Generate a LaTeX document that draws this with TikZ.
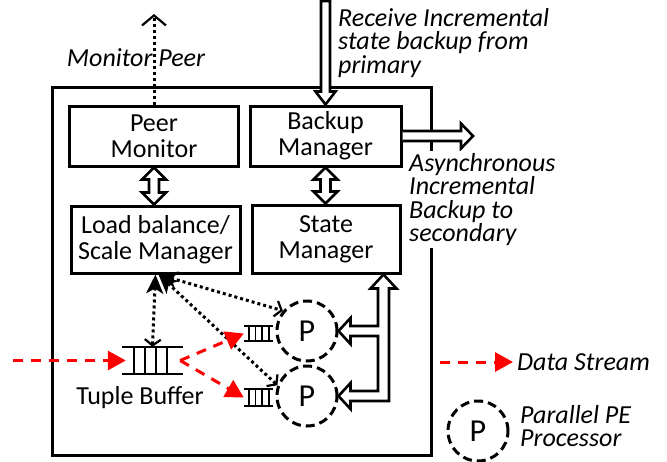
\documentclass[tikz,border=0pt]{standalone}
\usepackage{fontspec}
\setmainfont{Carlito}
\usetikzlibrary{arrows.meta,calc}

\tikzset{
  box/.style={draw, line width=3pt, inner sep=0pt, align=center},
  hollow/.style={draw, fill=white, line width=2.6pt, line join=miter},
  dotline/.style={line width=3pt, dash pattern=on 3pt off 3pt},
  redflow/.style={red, line width=3pt, dash pattern=on 10pt off 8pt, -{Triangle[length=18pt,width=19pt]}},
  pe/.style={circle, draw, line width=3pt, dash pattern=on 9pt off 5pt, minimum size=60pt, inner sep=0pt, font=\fontsize{32}{32}\selectfont},
  qline/.style={line width=1.8pt},
  lab/.style={font=\fontsize{26}{23.5}\selectfont\itshape, align=left, inner sep=0pt},
  ctrl/.style={dotline, {Stealth[length=19pt,width=17pt,inset=5pt]}-{Straight Barb[length=6pt,width=16pt,line width=2.2pt]}},
}

% vertical double-headed hollow arrow: top, bottom, shaft half width, head half width, head length
\newcommand\hvdouble[5]{%
  \path[hollow] let \p1=(#1), \p2=(#2) in
    (\x1,\y1) -- (\x1+#4pt,\y1-#5pt) -- (\x1+#3pt,\y1-#5pt) -- (\x1+#3pt,\y2+#5pt)
    -- (\x1+#4pt,\y2+#5pt) -- (\x1,\y2) -- (\x1-#4pt,\y2+#5pt) -- (\x1-#3pt,\y2+#5pt)
    -- (\x1-#3pt,\y1-#5pt) -- (\x1-#4pt,\y1-#5pt) -- cycle;}
% vertical single-headed hollow arrow pointing down
\newcommand\hvdown[5]{%
  \path[hollow] let \p1=(#1), \p2=(#2) in
    (\x1-#3pt,\y1) -- (\x1+#3pt,\y1) -- (\x1+#3pt,\y2+#5pt) -- (\x1+#4pt,\y2+#5pt)
    -- (\x1,\y2) -- (\x1-#4pt,\y2+#5pt) -- (\x1-#3pt,\y2+#5pt) -- cycle;}
% horizontal single-headed hollow arrow pointing right (open at start)
\newcommand\hhright[5]{%
  \path[hollow] let \p1=(#1), \p2=(#2) in
    (\x1,\y1+#3pt) -- (\x2-#5pt,\y1+#3pt) -- (\x2-#5pt,\y1+#4pt) -- (\x2,\y1)
    -- (\x2-#5pt,\y1-#4pt) -- (\x2-#5pt,\y1-#3pt) -- (\x1,\y1-#3pt);}
% queue glyph
\newcommand\drawqueue[2]{%
  \draw[qline] (#1.north west) -- (#1.north east) (#1.south west) -- (#1.south east);
  \foreach \f in {#2}
    \draw[qline] ($(#1.north west)!\f!(#1.north east)$) -- ($(#1.south west)!\f!(#1.south east)$);}

\begin{document}
\begin{tikzpicture}[x=1pt, y=-1pt, font=\fontsize{26}{26}\selectfont]
\useasboundingbox (0,0) rectangle (667,461);

% outer frame
\node[box, minimum width=379pt, minimum height=368pt] (outer) at (241.5,271) {};

% main boxes
\node[box, minimum width=169pt, minimum height=60pt] (pm) at (154,136) {Peer\\Monitor};
\node[box, minimum width=151pt, minimum height=60pt] (bm) at (325.5,136) {Backup\\Manager};
\node[box, minimum width=169pt, minimum height=67pt] (lb) at (155.5,239.5) {Load balance/\\Scale Manager};
\node[box, minimum width=148pt, minimum height=68pt] (sm) at (326,239) {State\\Manager};

% hollow connectors between boxes
\hvdouble{pm.south}{lb.north}{5}{12}{12}
\hvdouble{bm.south}{sm.north}{5}{12}{12}

% receive from primary
\coordinate (rtop) at (325.5,1);
\hvdown{rtop}{bm.north}{4.5}{10}{13}
\node[lab, anchor=north west] (lrecv) at (338,8) {Receive Incremental\\state backup from\\primary};

% asynchronous backup to secondary
\coordinate (atip) at (473,136);
\hhright{bm.east}{atip}{5}{12.5}{12}
\node[lab, fill=white, inner sep=2pt, anchor=north west] (lasync) at (407,151) {Asynchronous\\Incremental\\Backup to\\secondary};

% monitor peer
\coordinate (mp) at (154,14);
\draw[dotline, -{Straight Barb[length=10pt,width=24pt,line width=2.2pt]}] (pm.north) -- (mp);
\node[lab, anchor=base] (lmon) at (136,66) {Monitor Peer};

% tuple buffer and small queues
\node[minimum width=61pt, minimum height=27pt, inner sep=0pt] (tb) at (152.5,360.5) {};
\drawqueue{tb}{0.2,0.38,0.56,0.74}
\node[anchor=base] (ltb) at (140,404) {Tuple Buffer};
\node[minimum width=29pt, minimum height=15pt, inner sep=0pt] (q1) at (258.5,333.5) {};
\node[minimum width=29pt, minimum height=16pt, inner sep=0pt] (q2) at (258.5,397.5) {};
\drawqueue{q1}{0.17,0.4,0.63,0.86}
\drawqueue{q2}{0.17,0.4,0.63,0.86}

% state manager to PEs
\node[pe] (p1) at (307,331) {P};
\node[pe] (p2) at (307,396) {P};
\coordinate (st) at ([xshift=-18pt]sm.south east);
\path[hollow] let \p1=(st), \p2=(p1.east), \p3=(p2.east) in
  (\x1,\y1) -- (\x1+13pt,\y1-14pt) -- (\x1+5.5pt,\y1-14pt) -- (\x1+5.5pt,\y3-5pt)
  -- (\x3+12pt,\y3-5pt) -- (\x3+12pt,\y3-13pt) -- (\x3,\y3) -- (\x3+12pt,\y3+13pt)
  -- (\x3+12pt,\y3+5pt) -- (\x1-5.5pt,\y3+5pt) -- (\x1-5.5pt,\y2-5pt)
  -- (\x2+12pt,\y2-5pt) -- (\x2+12pt,\y2-13pt) -- (\x2,\y2) -- (\x2+12pt,\y2+13pt)
  -- (\x2+12pt,\y2+5pt) -- (\x1-5.5pt,\y2+5pt) -- (\x1-5.5pt,\y1-14pt)
  -- (\x1-13pt,\y1-14pt) -- cycle;

% control (dotted) connectors
\draw[ctrl] (lb.south) -- (tb.north);
\draw[ctrl] ([xshift=3pt]lb.south) -- (p1.140);
\draw[ctrl] ([xshift=3pt]lb.south) -- (p2.160);

% data stream
\coordinate (din) at (13,360.5);
\draw[redflow] (din) -- ([xshift=4pt]tb.west);
\draw[redflow] ([xshift=-3pt]tb.east) -- (q1.west);
\draw[redflow] ([xshift=-3pt]tb.east) -- (q2.west);

% legend
\coordinate (ls) at (440,362);
\coordinate (le) at (513,362);
\draw[redflow] (ls) -- (le);
\node[lab, anchor=base west] (lds) at (517,370) {Data Stream};
\node[pe] (pl) at (478,431) {P};
\node[lab, anchor=north west] (lpe) at (520,405) {Parallel PE\\Processor};
\end{tikzpicture}
\end{document}
